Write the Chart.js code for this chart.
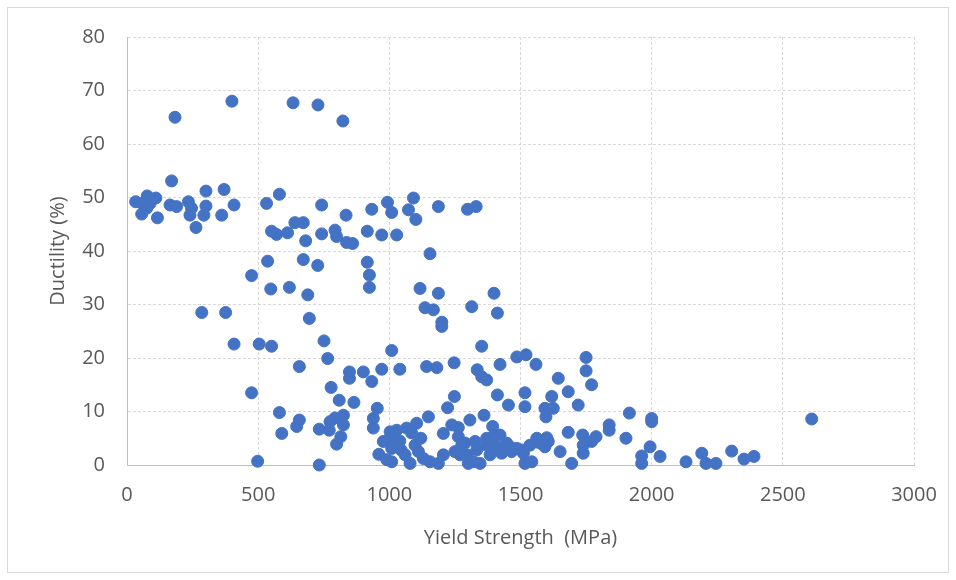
<!DOCTYPE html>
<html>
<head>
<meta charset="utf-8">
<script src="https://cdn.jsdelivr.net/npm/chart.js@4/dist/chart.umd.min.js"></script>
<style>
  html, body { margin: 0; padding: 0; background: #fff; }
  #wrap { width: 956px; height: 580px; position: relative; }
</style>
</head>
<body>
<div id="wrap"><canvas id="ductChart" width="956" height="580"></canvas></div>
<script>
// yield strength (MPa) and ductility (%)
const yieldStrength = [
  183, 400, 633, 728, 823,
  170, 77, 33, 58, 88, 110, 56, 116, 75, 164, 189, 234, 246, 240, 301, 301, 293, 263, 370, 408, 361,
  532, 581, 551, 570, 612, 640, 672, 681, 742, 742, 793, 799, 835, 837, 860, 933, 916, 971, 993, 1009, 1028,
  1092, 1073, 1101, 1187, 1298, 1331, 1155,
  536, 672, 727, 916, 924, 924, 475, 548, 619, 689, 285, 376, 695, 751, 408, 504, 551, 765, 1009, 657,
  848, 848, 901, 933, 971, 1040, 475, 778, 809, 865, 954, 581, 657, 647, 590, 793, 825, 774, 825, 733,
  771, 815, 799, 939, 939, 1003, 977, 1009, 1009, 498, 733,
  1117, 1187, 1399, 1136, 1168, 1314, 1412, 1200, 1200, 1352, 1142, 1181, 1247, 1422, 1486, 1521, 1559,
  1750, 1750, 1771, 1335, 1352, 1371, 1644, 1248, 1222, 1412, 1454, 1517, 1517, 1619, 1682, 1720, 1593,
  1597, 1625, 1915, 2000, 2000, 1149, 1104, 1066, 1028, 1307, 1361, 1394, 1422, 1206, 1263, 1263, 1289,
  1327, 1371, 1409, 1682, 1838, 1838, 1737, 1788, 1771, 1739, 1902, 1994, 2032, 1962, 1962, 1651, 1739,
  1695, 1517, 1543, 1155, 1187, 1079, 1060, 1098, 1111, 1003, 1206, 1250, 1276, 1295, 1320, 1346, 1384,
  1428, 1466, 1504, 1536, 1574, 1606, 1562, 1600, 1130, 1270, 1301, 1333, 1371, 1397, 1447, 1460, 1486,
  1593, 1511, 1238,
  960, 990, 1040, 1085, 1120, 1045,
  2131, 2191, 2207, 2245, 2305, 2352, 2390, 2610
];
const ductility = [
  65.0, 68.0, 67.7, 67.3, 64.3,
  53.1, 50.3, 49.2, 48.9, 48.9, 49.9, 46.9, 46.2, 48.0, 48.6, 48.3, 49.2, 48.0, 46.7, 51.2, 48.4, 46.7, 44.4, 51.5, 48.6, 46.7,
  48.9, 50.6, 43.7, 43.1, 43.4, 45.3, 45.3, 41.9, 48.6, 43.2, 43.9, 42.7, 46.7, 41.6, 41.4, 47.8, 43.7, 43.0, 49.1, 47.2, 43.0,
  49.9, 47.7, 45.9, 48.3, 47.8, 48.3, 39.5,
  38.1, 38.4, 37.3, 37.9, 35.5, 33.2, 35.4, 32.9, 33.2, 31.8, 28.5, 28.5, 27.4, 23.2, 22.6, 22.6, 22.2, 19.9, 21.4, 18.4,
  17.4, 16.2, 17.4, 15.6, 17.9, 17.9, 13.5, 14.5, 12.1, 11.7, 10.6, 9.8, 8.4, 7.2, 5.9, 8.8, 9.3, 8.1, 7.5, 6.7,
  6.5, 5.3, 3.9, 8.7, 6.9, 6.2, 4.4, 3.1, 0.6, 0.7, 0.0,
  33.0, 32.1, 32.1, 29.4, 29.0, 29.6, 28.4, 26.7, 25.9, 22.2, 18.4, 18.2, 19.1, 18.8, 20.2, 20.6, 18.8,
  20.1, 17.6, 15.0, 17.8, 16.5, 15.9, 16.2, 12.8, 10.7, 13.1, 11.2, 13.5, 10.9, 12.8, 13.7, 11.2, 10.6,
  9.0, 10.6, 9.7, 8.7, 8.1, 9.0, 7.8, 6.9, 6.5, 8.4, 9.3, 7.2, 5.6, 5.9, 7.0, 5.3, 4.1,
  4.4, 3.7, 3.4, 6.1, 7.5, 6.5, 5.6, 5.3, 4.4, 3.7, 5.0, 3.4, 1.6, 1.7, 0.3, 2.5, 2.2,
  0.3, 0.3, 0.6, 0.6, 0.3, 0.3, 1.9, 3.7, 2.5, 5.0, 1.9, 2.5, 3.7, 1.9, 0.6, 0.3, 1.9,
  2.2, 2.5, 2.8, 3.7, 4.1, 4.4, 5.0, 5.1, 1.2, 1.9, 0.3, 2.8, 5.0, 5.3, 4.1, 3.4, 3.1,
  3.4, 2.2, 7.5,
  2.0, 1.0, 4.5, 6.0, 5.0, 2.8,
  0.6, 2.2, 0.3, 0.3, 2.6, 1.1, 1.6, 8.6
];
const xTicks = [0, 500, 1000, 1500, 2000, 2500, 3000];
const yTicks = [0, 10, 20, 30, 40, 50, 60, 70, 80];

const points = yieldStrength.map((x, i) => ({ x: x, y: ductility[i] }));

const axisFont = { family: 'Open Sans', size: 20 };
const textColor = '#595959';

// thin frame around the whole picture
const framePlugin = {
  id: 'frame',
  beforeDraw(chart) {
    const c = chart.ctx;
    c.save();
    c.fillStyle = '#fff';
    c.fillRect(0, 0, chart.width, chart.height);
    c.strokeStyle = '#d9d9d9';
    c.lineWidth = 1;
    c.strokeRect(7.5, 7.5, 941, 565);
    c.restore();
  }
};

new Chart(document.getElementById('ductChart'), {
  type: 'scatter',
  data: {
    datasets: [{
      data: points,
      backgroundColor: '#4472C4',
      borderColor: '#4472C4',
      borderWidth: 1,
      pointRadius: 6,
      pointHoverRadius: 6,
      clip: false
    }]
  },
  options: {
    responsive: false,
    animation: false,
    layout: { padding: { left: 10, right: 42, top: 37, bottom: 20 } },
    plugins: { legend: { display: false }, tooltip: { enabled: false } },
    scales: {
      x: {
        type: 'linear',
        min: 0,
        max: 3000,
        afterBuildTicks: s => { s.ticks = xTicks.map(v => ({ value: v })); },
        afterFit: s => { s.height = 95; },
        ticks: { color: textColor, font: axisFont, padding: 18, maxRotation: 0, callback: v => String(v) },
        grid: { color: '#d9d9d9', drawTicks: false },
        border: { display: true, color: '#bfbfbf', width: 1, dash: [3, 2] },
        title: { display: true, text: 'Yield Strength  (MPa)', color: textColor, font: axisFont, padding: { top: 10, bottom: 10 } }
      },
      y: {
        type: 'linear',
        min: 0,
        max: 80,
        afterBuildTicks: s => { s.ticks = yTicks.map(v => ({ value: v })); },
        afterFit: s => { s.width = 117; },
        ticks: { color: textColor, font: axisFont, padding: 22, callback: v => String(v) },
        grid: { color: '#d9d9d9', drawTicks: false },
        border: { display: true, color: '#bfbfbf', width: 1, dash: [3, 2] },
        title: { display: true, text: 'Ductility (%)', color: textColor, font: axisFont, padding: { top: 36, bottom: 0 } }
      }
    }
  },
  plugins: [framePlugin]
});
</script>
</body>
</html>
